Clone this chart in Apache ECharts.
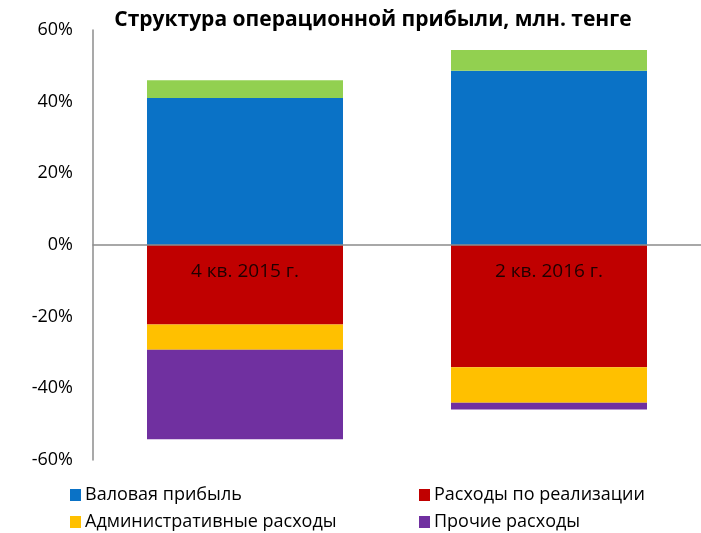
<!DOCTYPE html>
<html lang="ru">
<head>
    <meta charset="UTF-8">
    <title>Структура операционной прибыли</title>
    <style>
        body, html {
            margin: 0;
            padding: 0;
            width: 100%;
            height: 100%;
            background: #fff;
        }

        #main {
            width: 701px;
            height: 533px;
        }
    </style>
</head>
<body>
<div id="main"></div>
<script src="https://cdn.jsdelivr.net/npm/echarts@6/dist/echarts.min.js"></script>
<script>

    // данные
    let categories = ['4 кв. 2015 г.', '2 кв. 2016 г.'];
    let grossProfit = [41.0, 48.6];
    let otherIncome = [5.0, 5.8];
    let sellingCosts = [-22.2, -34.1];
    let adminCosts = [-7.0, -9.9];
    let otherCosts = [-25.0, -1.9];
    let yTicks = [-60, -40, -20, 0, 20, 40, 60];

    let font = '"Open Sans", "Noto Sans", sans-serif';

    function barSeries(name, data, color) {
        return {
            name: name,
            type: 'bar',
            stack: 'total',
            barWidth: 196,
            data: data,
            itemStyle: {color: color}
        };
    }

    function legendColumn(left, names) {
        return {
            left: left,
            top: 479,
            height: 60,
            padding: [5, 5, 0, 5],
            orient: 'vertical',
            itemGap: 5,
            itemWidth: 11,
            itemHeight: 12,
            icon: 'rect',
            data: names,
            textStyle: {color: '#000', fontFamily: font, fontSize: 18, lineHeight: 22, padding: [0, 0, 0, -1]}
        };
    }

    let myChart = echarts.init(document.getElementById('main'));

    // подписи категорий стоят у нуля, внутри красных столбиков
    let selling = barSeries('Расходы по реализации', sellingCosts, '#c00000');
    selling.label = {
        show: true,
        position: 'insideTop',
        distance: 17,
        color: '#200000',
        fontFamily: font,
        fontSize: 19,
        formatter: function (p) {
            return categories[p.dataIndex];
        }
    };

    let option = {
        animation: false,
        title: {
            text: 'Структура операционной прибыли, млн. тенге',
            left: 368,
            textAlign: 'center',
            top: 5,
            textStyle: {
                color: '#000',
                fontFamily: font,
                fontWeight: 'bold',
                fontSize: 21
            }
        },
        legend: [
            legendColumn(65, ['Валовая прибыль', 'Административные расходы']),
            legendColumn(414, ['Расходы по реализации', 'Прочие расходы'])
        ],
        grid: {left: 93, right: 0, top: 30, bottom: 73},
        xAxis: {
            type: 'category',
            data: categories,
            z: 10,
            axisLine: {onZero: true, lineStyle: {color: '#8c8c8c', width: 1.5}},
            axisTick: {show: false},
            axisLabel: {show: false}
        },
        yAxis: {
            type: 'value',
            min: yTicks[0],
            max: yTicks[yTicks.length - 1],
            interval: 20,
            axisLine: {show: true, lineStyle: {color: '#8c8c8c', width: 1.5}},
            axisTick: {show: false},
            splitLine: {show: false},
            axisLabel: {
                margin: 20,
                color: '#000',
                fontFamily: font,
                fontSize: 18,
                formatter: '{value}%'
            }
        },
        series: [
            barSeries('Валовая прибыль', grossProfit, '#0a72c6'),
            barSeries('Прочие доходы', otherIncome, '#92d050'),
            selling,
            barSeries('Административные расходы', adminCosts, '#ffc000'),
            barSeries('Прочие расходы', otherCosts, '#7030a0')
        ]
    };

    myChart.setOption(option);

</script>
</body>
</html>
